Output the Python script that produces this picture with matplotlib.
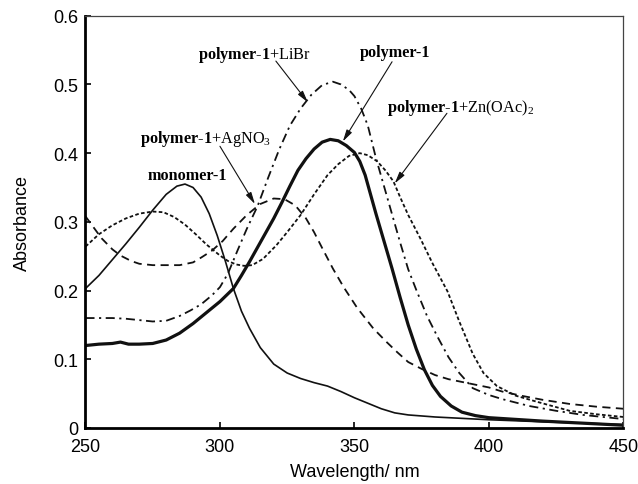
import matplotlib
matplotlib.use("Agg")
import matplotlib.pyplot as plt

# wavelength (nm) / absorbance
mono_x = [250, 255, 260, 265, 270, 275, 280, 284, 287, 290, 293, 296, 299, 302, 305, 308, 311,
          315, 320, 325, 330, 335, 340, 345, 350, 355, 360, 365, 370, 380, 390, 400, 420, 450]
mono_y = [0.203, 0.222, 0.245, 0.268, 0.292, 0.317, 0.340, 0.352, 0.355, 0.350, 0.336, 0.312,
          0.280, 0.243, 0.203, 0.170, 0.145, 0.117, 0.093, 0.080, 0.072, 0.066, 0.061, 0.053,
          0.044, 0.036, 0.028, 0.022, 0.019, 0.016, 0.014, 0.012, 0.009, 0.005]

poly_x = [250, 255, 260, 263, 266, 270, 275, 280, 285, 290, 295, 300, 305, 308, 311, 314, 317,
          320, 323, 326, 329, 332, 335, 338, 341, 344, 347, 350, 352, 354, 356, 358, 361, 364,
          367, 370, 373, 376, 379, 382, 386, 390, 395, 400, 420, 450]
poly_y = [0.120, 0.122, 0.123, 0.125, 0.122, 0.122, 0.123, 0.128, 0.138, 0.152, 0.168, 0.184,
          0.203, 0.222, 0.242, 0.263, 0.284, 0.305, 0.328, 0.352, 0.375, 0.392, 0.406, 0.416,
          0.420, 0.418, 0.411, 0.401, 0.388, 0.368, 0.340, 0.312, 0.272, 0.232, 0.190, 0.150,
          0.115, 0.085, 0.062, 0.046, 0.032, 0.023, 0.018, 0.015, 0.010, 0.004]

libr_x = [250, 255, 260, 265, 270, 275, 280, 285, 289, 293, 297, 300, 303, 306.5, 310, 314, 318,
          322, 326, 330, 334, 338, 342, 345, 348, 350, 352.5, 355, 358, 361, 364, 367, 370, 373,
          377, 381, 385, 389, 394, 400, 405, 415, 425, 435, 450]
libr_y = [0.160, 0.160, 0.160, 0.159, 0.157, 0.155, 0.156, 0.163, 0.171, 0.180, 0.193, 0.205,
          0.225, 0.258, 0.290, 0.323, 0.365, 0.405, 0.440, 0.465, 0.485, 0.499, 0.504, 0.500,
          0.492, 0.483, 0.465, 0.440, 0.393, 0.352, 0.311, 0.270, 0.231, 0.201, 0.163, 0.132,
          0.103, 0.080, 0.058, 0.048, 0.042, 0.032, 0.025, 0.019, 0.013]

ag_x = [250, 253, 256, 260, 263, 267, 270, 275, 280, 285, 290, 293, 297, 301, 305, 310, 315, 320,
        324, 328, 332, 335, 338, 342, 346, 351, 357, 362, 366, 370, 375, 380, 385, 390, 395, 400,
        405, 412, 420, 430, 440, 450]
ag_y = [0.308, 0.292, 0.276, 0.260, 0.251, 0.243, 0.239, 0.237, 0.237, 0.237, 0.241, 0.248,
        0.258, 0.272, 0.290, 0.310, 0.326, 0.334, 0.333, 0.324, 0.305, 0.285, 0.262, 0.232,
        0.205, 0.175, 0.145, 0.125, 0.110, 0.096, 0.086, 0.077, 0.071, 0.067, 0.063, 0.059,
        0.053, 0.047, 0.041, 0.035, 0.031, 0.028]

zn_x = [250, 255, 260, 265, 270, 275, 279, 283, 287, 291, 295, 300, 303, 306, 309, 312, 316, 321,
        325, 330, 335, 340, 344, 348, 352, 355, 358.5, 361.5, 364.5, 367, 370, 374.5, 379, 384.6,
        389, 394, 398, 403, 410, 418, 430, 440, 450]
zn_y = [0.264, 0.282, 0.295, 0.305, 0.312, 0.315, 0.314, 0.307, 0.296, 0.282, 0.267, 0.251,
        0.243, 0.238, 0.236, 0.237, 0.246, 0.266, 0.285, 0.310, 0.340, 0.368, 0.384, 0.396,
        0.400, 0.397, 0.388, 0.375, 0.359, 0.336, 0.310, 0.276, 0.240, 0.199, 0.155, 0.108,
        0.080, 0.061, 0.047, 0.038, 0.025, 0.020, 0.016]

x_ticks = [250, 300, 350, 400, 450]
y_ticks = [0, 0.1, 0.2, 0.3, 0.4, 0.5, 0.6]
y_ticklabels = ["0", "0.1", "0.2", "0.3", "0.4", "0.5", "0.6"]


def main():
    plt.rcParams["font.family"] = ["Liberation Sans", "DejaVu Sans"]
    plt.rcParams["mathtext.fontset"] = "custom"
    plt.rcParams["mathtext.rm"] = "Liberation Serif"
    plt.rcParams["mathtext.bf"] = "Liberation Serif:bold"
    plt.rcParams["mathtext.it"] = "Liberation Serif:italic"

    fig = plt.figure(figsize=(6.38, 4.85), dpi=100)
    ax = fig.add_axes([0.134, 0.1155, 0.843, 0.85])
    k = "#111111"

    ax.plot(mono_x, mono_y, color=k, lw=1.2, ls="-")
    ax.plot(poly_x, poly_y, color=k, lw=2.3, ls="-")
    ax.plot(libr_x, libr_y, color=k, lw=1.3, ls=(0, (5, 2.5, 1.2, 2.5)))
    ax.plot(ag_x, ag_y, color=k, lw=1.3, ls=(0, (4.5, 3)))
    ax.plot(zn_x, zn_y, color=k, lw=1.3, ls=(0, (2, 1.3)))

    ax.set_xlim(250, 450)
    ax.set_ylim(0, 0.6)
    ax.set_xticks(x_ticks)
    ax.set_yticks(y_ticks)
    ax.set_yticklabels(y_ticklabels)
    ax.tick_params(direction="in", length=4, width=1.2, labelsize=13, top=False, right=False)
    ax.tick_params(axis="x", pad=7)
    ax.tick_params(axis="y", pad=5)
    for s in ["left", "bottom"]:
        ax.spines[s].set_linewidth(2.0)
    for s in ["top", "right"]:
        ax.spines[s].set_linewidth(0.9)
        ax.spines[s].set_color("#444444")

    ax.set_xlabel("Wavelength/ nm", fontsize=13, labelpad=6)
    ax.set_ylabel("Absorbance", fontsize=13, labelpad=16)

    arrow = dict(arrowstyle="-|>,head_length=0.7,head_width=0.18", lw=0.8, color=k,
                 shrinkA=0, shrinkB=0)
    fs = 11.7
    serif = "Liberation Serif"

    ax.text(287.7, 0.368, "monomer-1", fontsize=fs, family=serif, fontweight="bold",
            ha="center", va="center")
    ax.annotate("", xy=(313, 0.326), xytext=(300, 0.41), arrowprops=arrow)
    ax.text(270.3, 0.416, r"$\mathbf{polymer}$-$\mathbf{1}$+AgNO$_3$", fontsize=fs,
            family=serif, ha="left", va="baseline")
    ax.annotate("", xy=(332.7, 0.474), xytext=(320.8, 0.534), arrowprops=arrow)
    ax.text(291.8, 0.539, r"$\mathbf{polymer}$-$\mathbf{1}$+LiBr", fontsize=fs,
            family=serif, ha="left", va="baseline")
    ax.annotate("", xy=(345.7, 0.417), xytext=(364, 0.533), arrowprops=arrow)
    ax.text(352, 0.541, "polymer-1", fontsize=fs, family=serif, fontweight="bold",
            ha="left", va="baseline")
    ax.annotate("", xy=(365, 0.356), xytext=(384.4, 0.458), arrowprops=arrow)
    ax.text(362, 0.461, r"$\mathbf{polymer}$-$\mathbf{1}$+Zn(OAc)$_2$", fontsize=fs,
            family=serif, ha="left", va="baseline")

    fig.savefig("out.png", dpi=100)


if __name__ == "__main__":
    main()
